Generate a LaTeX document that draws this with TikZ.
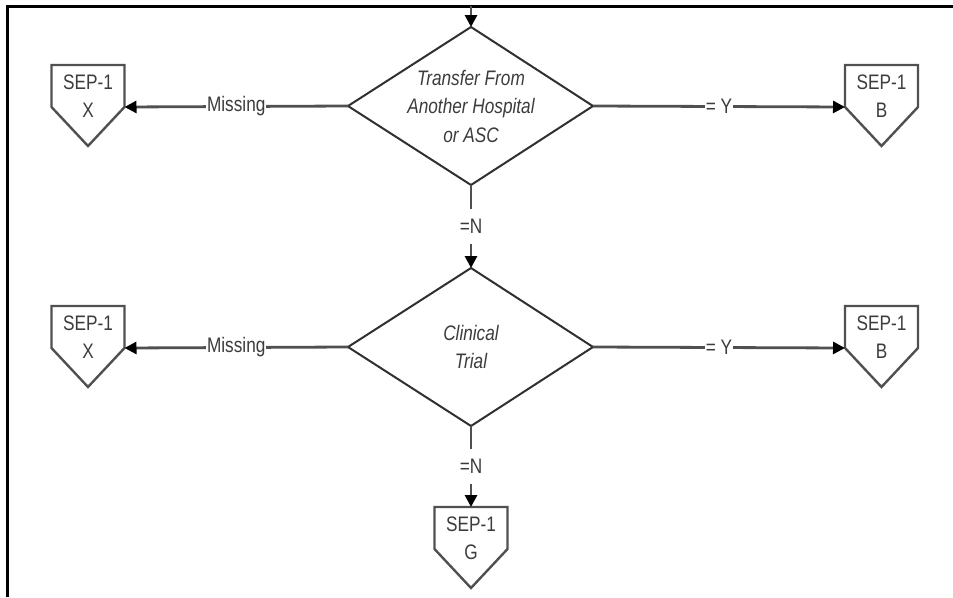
\documentclass[tikz,border=0pt]{standalone}
\usepackage{fontspec}
\setmainfont{Liberation Sans}[FakeStretch=0.82]
\usetikzlibrary{arrows.meta,calc}
\definecolor{txtgray}{HTML}{3C3C3C}
\definecolor{linegray}{HTML}{505050}
\definecolor{diagray}{HTML}{303030}
\begin{document}
\begin{tikzpicture}[x=1pt,y=-1pt,
  every node/.style={font=\fontsize{21}{28}\selectfont, text=txtgray, inner sep=0pt},
  conn/.style={draw=linegray, line width=2.8pt, -{Triangle[length=12pt,width=12pt,color=black]}},
  dia/.style={draw=diagray, line width=2pt, line join=miter},
  pent/.style={draw=linegray, line width=2.4pt, line join=miter},
  lbl/.style={fill=white, inner xsep=1pt, inner ysep=2pt},
  vlbl/.style={fill=white, inner xsep=2pt, inner ysep=10pt},
  dtext/.style={align=center, font=\fontsize{21}{28.5}\selectfont\itshape},
  ptext/.style={align=center}]
\useasboundingbox (0,0) rectangle (953,597);
% frame
\draw[line width=3pt, black] (7.5,597) -- (7.5,6) -- (953,6);
% diamonds
\node[dtext] (d1) at (471,106) {Transfer From\\Another Hospital\\or ASC};
\coordinate (d1t) at (471,27);
\coordinate (d1b) at (471,185);
\coordinate (d1l) at (348,106);
\coordinate (d1r) at (593,106);
\draw[dia] (d1t) -- (d1r) -- (d1b) -- (d1l) -- cycle;
\node[dtext] (d2) at (471,347) {Clinical\\Trial};
\coordinate (d2t) at (471,268);
\coordinate (d2b) at (471,426);
\coordinate (d2l) at (348,347);
\coordinate (d2r) at (593,347);
\draw[dia] (d2t) -- (d2r) -- (d2b) -- (d2l) -- cycle;
% off-page connectors
\node[ptext] (x1) at (88,96) {SEP-1\\X};
\node[ptext] (b1) at (881.5,96) {SEP-1\\B};
\node[ptext] (x2) at (88,337) {SEP-1\\X};
\node[ptext] (b2) at (881.5,337) {SEP-1\\B};
\node[ptext] (g)  at (471,538) {SEP-1\\G};
\foreach \n in {x1,b1,x2,b2,g}{
  \draw[pent] ($(\n)+(-36.5,-31)$) -- ($(\n)+(36.5,-31)$) -- ($(\n)+(36.5,11)$)
    -- ($(\n)+(0,50)$) -- ($(\n)+(-36.5,11)$) -- cycle;
  \coordinate (\n e) at ($(\n)+(36.5,11)$);
  \coordinate (\n w) at ($(\n)+(-36.5,11)$);
  \coordinate (\n n) at ($(\n)+(0,-31)$);
}
% connectors
\coordinate (top) at (471,6);
\draw[conn] (top) -- (d1t);
\draw[conn] (d1l) -- node[lbl]{Missing} (x1e);
\draw[conn] (d1r) -- node[lbl]{= Y} (b1w);
\draw[conn] (d1b) -- node[vlbl]{=N} (d2t);
\draw[conn] (d2l) -- node[lbl]{Missing} (x2e);
\draw[conn] (d2r) -- node[lbl]{= Y} (b2w);
\draw[conn] (d2b) -- node[vlbl]{=N} (gn);
\end{tikzpicture}
\end{document}
